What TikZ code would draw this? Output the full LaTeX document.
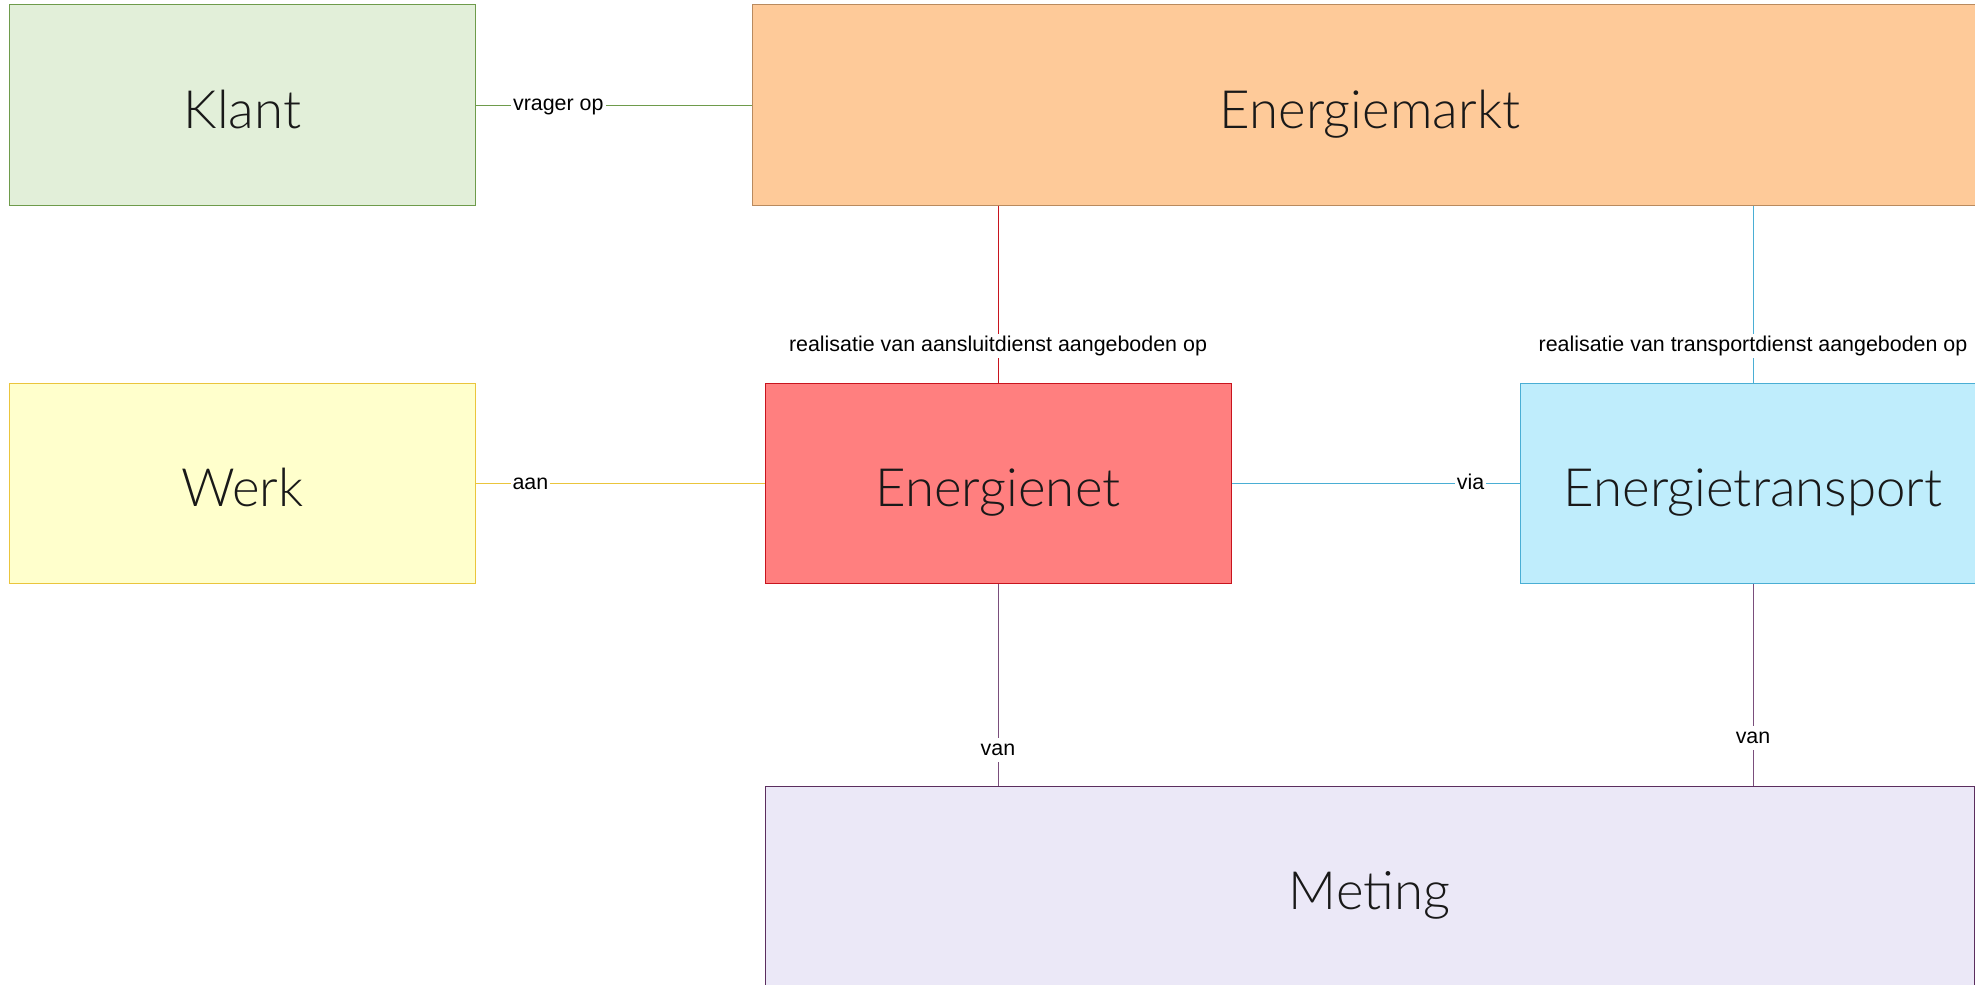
\documentclass[tikz,border=0pt]{standalone}
\usepackage{fontspec}
\setmainfont{Liberation Sans}
\IfFontExistsTF{Lato Light}{\newfontfamily\titlefont{Lato Light}}{\newfontfamily\titlefont{Open Sans}}
\definecolor{klantfill}{HTML}{E2EFD9}
\definecolor{klantline}{HTML}{6E9B4B}
\definecolor{marktfill}{HTML}{FECA99}
\definecolor{marktline}{HTML}{B98A5E}
\definecolor{werkfill}{HTML}{FFFFCC}
\definecolor{werkline}{HTML}{EAC53C}
\definecolor{netfill}{HTML}{FF7F7F}
\definecolor{netline}{HTML}{C8141E}
\definecolor{transfill}{HTML}{BFEDFC}
\definecolor{transline}{HTML}{4AAED4}
\definecolor{metfill}{HTML}{EBE8F7}
\definecolor{metline}{HTML}{5B2E5E}
\definecolor{vanline}{HTML}{7A4E7C}
\begin{document}
\begin{tikzpicture}[x=1bp,y=-1bp,
  box/.style={draw, line width=1bp, inner sep=0pt, minimum height=200bp,
    text height=46bp, text depth=0bp,
    font=\titlefont\fontsize{53}{63}\selectfont, text=black!90},
  lbl/.style={fill=white, inner sep=2bp, text height=15.5bp, text depth=4.5bp,
    font=\fontsize{21.5}{26}\selectfont, text=black},
  conn/.style={line width=1bp}]
\useasboundingbox (0,0) rectangle (1975,985);
\node[box, fill=klantfill, draw=klantline, minimum width=465bp] (klant) at (242.5,105) {Klant};
\node[box, fill=marktfill, draw=marktline, minimum width=1236bp] (markt) at (1370,105) {Energiemarkt};
\node[box, fill=werkfill, draw=werkline, minimum width=465bp] (werk) at (242.5,483.5) {Werk};
\node[box, fill=netfill, draw=netline, minimum width=466bp] (net) at (998,483.5) {Energienet};
\node[box, fill=transfill, draw=transline, minimum width=466bp] (trans) at (1753,483.5) {Energietransport};
\node[box, fill=metfill, draw=metline, minimum width=1209bp] (meting) at (1369.5,886.5) {Meting};

\draw[conn, klantline] (klant.east) -- (markt.west) node[lbl, pos=0.3] (vrager) {vrager op};
\draw[conn, werkline] (werk.east) -- (net.west) node[lbl, pos=0.19] (aan) {aan};
\draw[conn, transline] (net.east) -- (trans.west) node[lbl, pos=0.83] (via) {via};
\draw[conn, netline] (net.north |- markt.south) -- (net.north) node[lbl, pos=0.79] (aansluit) {realisatie van aansluitdienst aangeboden op};
\draw[conn, transline] (trans.north |- markt.south) -- (trans.north) node[lbl, pos=0.79] (transdienst) {realisatie van transportdienst aangeboden op};
\draw[conn, vanline] (net.south) -- (net.south |- meting.north) node[lbl, pos=0.82] (vannet) {van};
\draw[conn, vanline] (trans.south) -- (trans.south |- meting.north) node[lbl, pos=0.76] (vantrans) {van};
\end{tikzpicture}
\end{document}
